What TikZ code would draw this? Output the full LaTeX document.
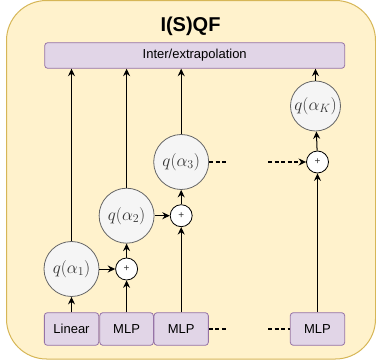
\documentclass[tikz,border=0pt]{standalone}
\usepackage{fontspec}
\setmainfont{Liberation Sans}
\usetikzlibrary{arrows.meta}
\definecolor{bgfill}{HTML}{FFF2CC}
\definecolor{bgline}{HTML}{D6B656}
\definecolor{pfill}{HTML}{E1D5E7}
\definecolor{pline}{HTML}{9673A6}
\definecolor{cfill}{HTML}{F5F5F5}
\definecolor{cline}{HTML}{666666}
\definecolor{txt}{HTML}{333333}
\begin{document}
\begin{tikzpicture}[x=1pt,y=-1pt,
  pbox/.style={draw=pline,fill=pfill,rounded corners=3pt,line width=0.8pt,inner sep=0pt,font=\fontsize{13}{13}\selectfont},
  qcirc/.style={circle,draw=cline,fill=cfill,line width=0.8pt,minimum size=55pt,inner sep=0pt,font=\fontsize{16.5}{16.5}\selectfont,text=txt},
  pcirc/.style={circle,draw=black,fill=white,line width=0.8pt,minimum size=22pt,inner sep=0pt,font=\fontsize{10}{10}\selectfont,text=txt},
  arr/.style={-{Stealth[length=7.5pt,width=7pt,inset=2.5pt]},line width=1pt},
  dsh/.style={dash pattern=on 4pt off 2.5pt,line width=1.3pt}]
\useasboundingbox (0,0) rectangle (376,364);
\draw[draw=bgline,fill=bgfill,rounded corners=40pt,line width=1pt] (6.5,0.5) rectangle (375.5,359);
\node[font=\bfseries\fontsize{20}{20}\selectfont] (title) at (190.5,26) {I(S)QF};
\node[pbox,minimum width=300pt,minimum height=25.6pt] (inter) at (194.7,55.5) {Inter/extrapolation};
\node[pbox,minimum width=54.3pt,minimum height=32.6pt] (lin) at (71.5,329) {Linear};
\node[pbox,minimum width=53.6pt,minimum height=32.6pt] (m1) at (126.6,329) {MLP};
\node[pbox,minimum width=54.3pt,minimum height=32.6pt] (m2) at (181.2,329) {MLP};
\node[pbox,minimum width=54.4pt,minimum height=32.6pt] (m4) at (317.5,329) {MLP};
\node[qcirc] (q1) at (71.5,269) {$q(\alpha_1)$};
\node[pcirc] (p1) at (126.6,269) {+};
\node[qcirc] (q2) at (126.6,215.7) {$q(\alpha_2)$};
\node[pcirc] (p2) at (181.2,215.7) {+};
\node[qcirc] (q3) at (181.2,162) {$q(\alpha_3)$};
\node[pcirc] (pK) at (317.5,162) {+};
\node[qcirc,minimum size=50pt] (qK) at (315.5,106) {$q(\alpha_K)$};
\draw[arr] (lin) -- (q1);
\draw[arr] (q1) -- (p1);
\draw[arr] (m1) -- (p1);
\draw[arr] (p1) -- (q2);
\draw[arr] (q2) -- (p2);
\draw[arr] (m2) -- (p2);
\draw[arr] (p2) -- (q3);
\draw[arr] (q1.north) -- (q1.north |- inter.south);
\draw[arr] (q2.north) -- (q2.north |- inter.south);
\draw[arr] (q3.north) -- (q3.north |- inter.south);
\draw[arr] (m4) -- (pK);
\draw[arr] (pK) -- (qK);
\draw[arr] (qK.north) -- (qK.north |- inter.south);
\coordinate (d1) at (226,162);
\coordinate (d2) at (268,162);
\coordinate (d3) at (226,329);
\coordinate (d4) at (268,329);
\draw[dsh] (q3.east) -- (d1);
\draw[arr,dsh] (d2) -- (pK.west);
\draw[dsh] (m2.east) -- (d3);
\draw[dsh] (d4) -- (m4.west);
\end{tikzpicture}
\end{document}
